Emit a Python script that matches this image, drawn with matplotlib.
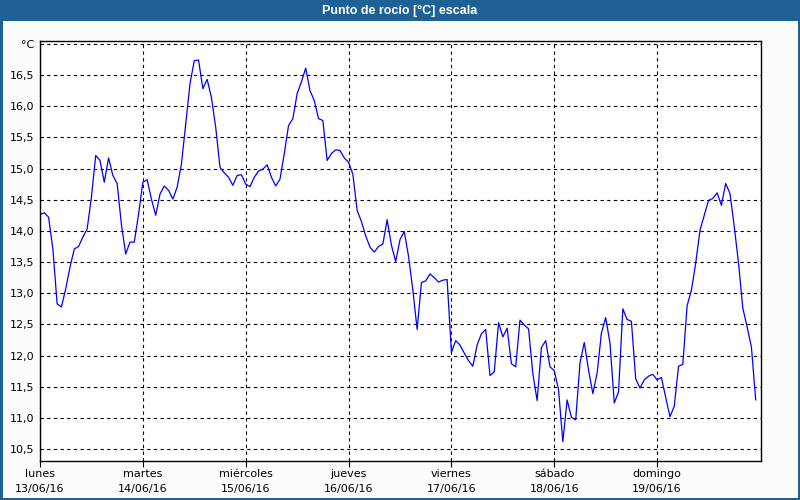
import numpy as np
import matplotlib
matplotlib.use("Agg")
import matplotlib.pyplot as plt
from matplotlib.patches import Rectangle
from matplotlib.ticker import FixedLocator, FuncFormatter

# hourly dew point, 13/06/16 00:00 .. 19/06/16 23:00
dew_point = [
    14.26, 14.29, 14.22, 13.71, 12.83, 12.78, 13.07, 13.42, 13.71, 13.75, 13.90, 14.03,
    14.54, 15.21, 15.13, 14.78, 15.17, 14.89, 14.76, 14.10, 13.63, 13.82, 13.82, 14.27,
    14.78, 14.82, 14.51, 14.25, 14.59, 14.72, 14.65, 14.51, 14.70, 15.07, 15.72, 16.36,
    16.73, 16.74, 16.28, 16.43, 16.14, 15.66, 15.02, 14.93, 14.86, 14.73, 14.89, 14.90,
    14.75, 14.71, 14.86, 14.96, 14.99, 15.06, 14.86, 14.72, 14.83, 15.24, 15.69, 15.80,
    16.20, 16.39, 16.61, 16.25, 16.09, 15.80, 15.77, 15.13, 15.24, 15.30, 15.29, 15.17,
    15.10, 14.91, 14.33, 14.15, 13.92, 13.74, 13.66, 13.75, 13.79, 14.18, 13.77, 13.51,
    13.86, 13.99, 13.59, 13.05, 12.42, 13.17, 13.20, 13.31, 13.25, 13.18, 13.21, 13.22,
    12.05, 12.24, 12.17, 12.04, 11.92, 11.83, 12.17, 12.35, 12.42, 11.68, 11.74, 12.53,
    12.30, 12.44, 11.87, 11.82, 12.57, 12.49, 12.43, 11.71, 11.28, 12.13, 12.24, 11.82,
    11.76, 11.45, 10.62, 11.29, 11.01, 10.97, 11.88, 12.21, 11.77, 11.39, 11.72, 12.36,
    12.61, 12.20, 11.24, 11.42, 12.75, 12.58, 12.55, 11.63, 11.48, 11.61, 11.67, 11.70,
    11.61, 11.65, 11.33, 11.02, 11.19, 11.83, 11.86, 12.80, 13.05, 13.48, 14.01, 14.25,
    14.49, 14.52, 14.61, 14.41, 14.76, 14.60, 14.07, 13.48, 12.76, 12.46, 12.14, 11.29,
]
day_names = ["lunes", "martes", "miércoles", "jueves", "viernes", "sábado", "domingo"]
day_dates = ["13/06/16", "14/06/16", "15/06/16", "16/06/16", "17/06/16", "18/06/16", "19/06/16"]
y_ticks = [10.5, 11.0, 11.5, 12.0, 12.5, 13.0, 13.5, 14.0, 14.5, 15.0, 15.5, 16.0, 16.5, 17.0]

title = "Punto de rocío [°C] escala"
bar_blue = "#1e6195"

plt.rcParams["font.family"] = ["DejaVu Sans"]

fig = plt.figure(figsize=(8, 5), dpi=100, facecolor="#fbfdfb")

# title bar and frame
fig.add_artist(Rectangle((0, 1 - 21 / 500), 1, 21 / 500, transform=fig.transFigure,
                         facecolor=bar_blue, edgecolor="none"))
fig.add_artist(Rectangle((0, 0), 2.5 / 800, 1, transform=fig.transFigure,
                         facecolor=bar_blue, edgecolor="none"))
fig.add_artist(Rectangle((1 - 2.5 / 800, 0), 2.5 / 800, 1, transform=fig.transFigure,
                         facecolor=bar_blue, edgecolor="none"))
fig.add_artist(Rectangle((0, 0), 1, 2.5 / 500, transform=fig.transFigure,
                         facecolor=bar_blue, edgecolor="none"))
fig.text(0.5, 1 - 10.5 / 500, title, color="white", fontsize=9, fontweight="bold",
         family=["Liberation Sans", "DejaVu Sans"], ha="center", va="center")

ax = fig.add_axes([40 / 800, 1 - 461 / 500, 721 / 800, 420.3 / 500])
ax.set_facecolor("white")

days = np.arange(len(dew_point)) / 24.0
ax.plot(days, dew_point, color="#0000ff", linewidth=0.9)

ax.set_xlim(0, 7.01)
ax.set_ylim(10.31, 17.05)

ax.yaxis.set_major_locator(FixedLocator(y_ticks))
ax.yaxis.set_major_formatter(FuncFormatter(
    lambda v, pos: "°C" if abs(v - 17.0) < 1e-6 else f"{v:.1f}".replace(".", ",")))
ax.xaxis.set_major_locator(FixedLocator(range(len(day_names))))
ax.set_xticklabels([f"{n}\n{d}" for n, d in zip(day_names, day_dates)])

ax.tick_params(axis="y", length=0, pad=4, labelsize=8, colors="black")
ax.tick_params(axis="x", length=4, width=0.8, pad=2, labelsize=8, colors="black")
for lbl in ax.get_xticklabels():
    lbl.set_linespacing(1.55)

ax.grid(True, color="black", linestyle=(0, (3, 3)), linewidth=0.8)
for s in ax.spines.values():
    s.set_color("black")
    s.set_linewidth(1.0)

fig.savefig("out.png", dpi=100, facecolor=fig.get_facecolor())
